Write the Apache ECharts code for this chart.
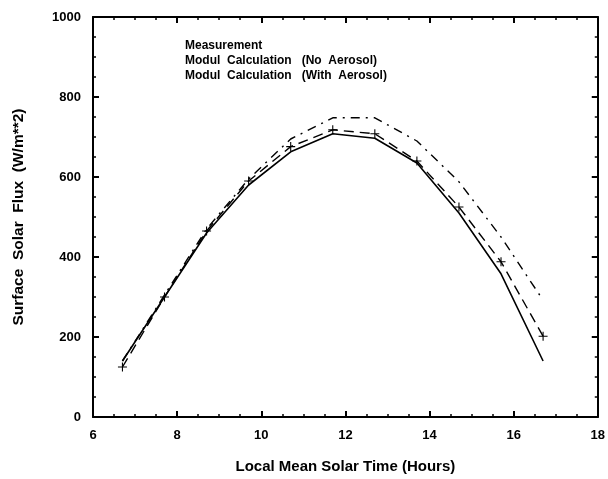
<!DOCTYPE html>
<html>
<head>
<meta charset="utf-8">
<script src="https://cdn.jsdelivr.net/npm/echarts@6/dist/echarts.min.js"></script>
<style>
  html, body { margin: 0; padding: 0; background: #fff; }
  #chart { width: 608px; height: 479px; }
</style>
</head>
<body>
<div id="chart"></div>
<script>
const FONT = '"Liberation Sans", Arial, Helvetica, sans-serif';

const hours = [6.7, 7.7, 8.7, 9.7, 10.7, 11.7, 12.7, 13.7, 14.7, 15.7, 16.7];
const measurement = [140, 300, 460, 580, 663, 708, 697, 635, 510, 358, 140];
const noAerosol = [125, 300, 465, 590, 676, 718, 708, 640, 525, 388, 202];
const withAerosol = [140, 305, 470, 595, 695, 748, 748, 690, 588, 450, 292];

const seriesNames = [
    'Measurement',
    'Modul  Calculation   (No  Aerosol)',
    'Modul  Calculation   (With  Aerosol)',
];

const pairs = vals => hours.map((h, i) => [h, vals[i]]);
const PLUS = 'path://M4.4,0H5.6V4.4H10V5.6H5.6V10H4.4V5.6H0V4.4H4.4Z';

const boxAxis = {
    axisLine: { show: true, onZero: false, lineStyle: { color: '#000', width: 2 } },
    axisTick: { show: true, inside: true, length: 6, lineStyle: { color: '#000', width: 2 } },
    minorTick: { show: true, splitNumber: 4, length: 3, lineStyle: { color: '#000', width: 1.5 } },
    splitLine: { show: false },
};

const tickFont = { fontFamily: FONT, fontSize: 13, fontWeight: 'bold', color: '#000', margin: 12 };

const chart = echarts.init(document.getElementById('chart'), null, { renderer: 'canvas' });

chart.setOption({
    animation: false,
    backgroundColor: '#fff',
    grid: { left: 93, right: 7, top: 17, bottom: 61 },
    legend: {
        orient: 'vertical',
        left: 175,
        top: 34,
        icon: 'none',
        itemWidth: 0,
        itemGap: 2,
        selectedMode: false,
        data: seriesNames,
        textStyle: { fontFamily: FONT, fontSize: 12, fontWeight: 'bold', color: '#000' },
    },
    xAxis: [{
        type: 'value', min: 6, max: 18, interval: 2, position: 'bottom',
        ...boxAxis,
        axisLabel: tickFont,
        name: 'Local Mean Solar Time (Hours)',
        nameLocation: 'middle', nameGap: 42,
        nameTextStyle: { fontFamily: FONT, fontSize: 15, fontWeight: 'bold', color: '#000' },
    }, {
        type: 'value', min: 6, max: 18, interval: 2, position: 'top',
        ...boxAxis,
        axisLabel: { show: false },
    }],
    yAxis: [{
        type: 'value', min: 0, max: 1000, interval: 200, position: 'left',
        ...boxAxis,
        axisLabel: { ...tickFont, formatter: v => String(v) },
        name: 'Surface  Solar  Flux  (W/m**2)',
        nameLocation: 'middle', nameGap: 66,
        nameTextStyle: { fontFamily: FONT, fontSize: 15.5, fontWeight: 'bold', color: '#000' },
    }, {
        type: 'value', min: 0, max: 1000, interval: 200, position: 'right',
        ...boxAxis,
        axisLabel: { show: false },
    }],
    series: [{
        name: seriesNames[0], type: 'line', data: pairs(measurement),
        symbol: 'none',
        lineStyle: { color: '#000', width: 1.6, type: 'solid' },
        itemStyle: { color: '#000' },
    }, {
        name: seriesNames[1], type: 'line', data: pairs(noAerosol),
        symbol: PLUS, symbolSize: 9,
        lineStyle: { color: '#000', width: 1.4, type: [10, 6] },
        itemStyle: { color: '#000' },
    }, {
        name: seriesNames[2], type: 'line', data: pairs(withAerosol),
        symbol: 'none',
        lineStyle: { color: '#000', width: 1.4, type: [9, 6, 2, 6] },
        itemStyle: { color: '#000' },
    }],
});
</script>
</body>
</html>
